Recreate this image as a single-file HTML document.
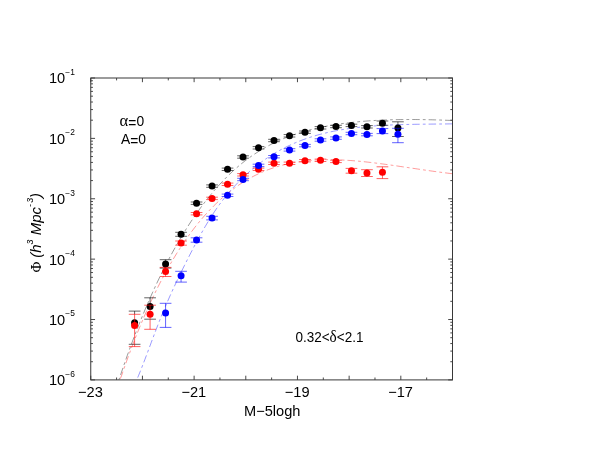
<!DOCTYPE html>
<html><head><meta charset="utf-8"><title>Luminosity function</title>
<style>html,body{margin:0;padding:0;background:#fff;}body{width:592px;height:458px;overflow:hidden;font-family:"Liberation Sans",sans-serif;}svg{display:block}</style>
</head><body>
<svg width="592" height="458" viewBox="0 0 592 458">
<defs><filter id="nf" x="0" y="0" width="592" height="458" filterUnits="userSpaceOnUse"><feOffset dx="0" dy="0"/></filter></defs>
<rect width="592" height="458" fill="#fff"/>
<path d="M452.5,120.5 L450.82,120.43 L449.15,120.37 L447.47,120.3 L445.79,120.24 L444.12,120.17 L442.44,120.12 L440.77,120.06 L439.09,120 L437.41,119.95 L435.74,119.9 L434.06,119.86 L432.38,119.81 L430.71,119.77 L429.03,119.74 L427.35,119.7 L425.68,119.67 L424,119.64 L422.33,119.61 L420.65,119.59 L418.97,119.57 L417.3,119.55 L415.62,119.54 L413.94,119.53 L412.27,119.53 L410.59,119.52 L408.91,119.52 L407.24,119.53 L405.56,119.54 L403.88,119.55 L402.21,119.57 L400.53,119.59 L398.86,119.61 L397.18,119.64 L395.5,119.68 L393.83,119.71 L392.15,119.76 L390.47,119.8 L388.8,119.86 L387.12,119.91 L385.44,119.97 L383.77,120.04 L382.09,120.11 L380.42,120.19 L378.74,120.27 L377.06,120.36 L375.39,120.45 L373.71,120.55 L372.03,120.66 L370.36,120.77 L368.68,120.89 L367,121.01 L365.33,121.14 L363.65,121.27 L361.98,121.42 L360.3,121.56 L358.62,121.72 L356.95,121.88 L355.27,122.05 L353.59,122.23 L351.92,122.41 L350.24,122.6 L348.56,122.8 L346.89,123.01 L345.21,123.23 L343.54,123.45 L341.86,123.68 L340.18,123.92 L338.51,124.17 L336.83,124.43 L335.15,124.69 L333.48,124.97 L331.8,125.25 L330.12,125.55 L328.45,125.85 L326.77,126.16 L325.09,126.49 L323.42,126.82 L321.74,127.16 L320.07,127.52 L318.39,127.88 L316.71,128.26 L315.04,128.65 L313.36,129.05 L311.68,129.46 L310.01,129.88 L308.33,130.32 L306.65,130.78 L304.98,131.24 L303.3,131.72 L301.63,132.22 L299.95,132.73 L298.27,133.26 L296.6,133.8 L294.92,134.36 L293.24,134.93 L291.57,135.53 L289.89,136.14 L288.21,136.77 L286.54,137.42 L284.86,138.09 L283.19,138.77 L281.51,139.48 L279.83,140.21 L278.16,140.96 L276.48,141.73 L274.8,142.53 L273.13,143.35 L271.45,144.19 L269.77,145.05 L268.1,145.94 L266.42,146.85 L264.75,147.79 L263.07,148.75 L261.39,149.74 L259.72,150.76 L258.04,151.8 L256.36,152.88 L254.69,153.98 L253.01,155.11 L251.33,156.27 L249.66,157.46 L247.98,158.68 L246.31,159.93 L244.63,161.22 L242.95,162.53 L241.28,163.88 L239.6,165.27 L237.92,166.69 L236.25,168.14 L234.57,169.63 L232.89,171.15 L231.22,172.71 L229.54,174.31 L227.86,175.94 L226.19,177.6 L224.51,179.31 L222.84,181.05 L221.16,182.83 L219.48,184.64 L217.81,186.49 L216.13,188.38 L214.45,190.31 L212.78,192.28 L211.1,194.29 L209.42,196.34 L207.75,198.42 L206.07,200.55 L204.4,202.72 L202.72,204.93 L201.04,207.18 L199.37,209.47 L197.69,211.81 L196.01,214.19 L194.34,216.61 L192.66,219.07 L190.98,221.58 L189.31,224.13 L187.63,226.73 L185.96,229.38 L184.28,232.07 L182.6,234.81 L180.93,237.59 L179.25,240.43 L177.57,243.31 L175.9,246.24 L174.22,249.22 L172.54,252.25 L170.87,255.33 L169.19,258.46 L167.52,261.65 L165.84,264.89 L164.16,268.18 L162.49,271.52 L160.81,274.92 L159.13,278.38 L157.46,281.89 L155.78,285.46 L154.1,289.08 L152.43,292.77 L150.75,296.51 L149.07,300.31 L147.4,304.17 L145.72,308.09 L144.05,312.08 L142.37,316.13 L140.69,320.24 L139.02,324.41 L137.34,328.66 L135.66,332.96 L133.99,337.34 L132.31,341.78 L130.63,346.29 L128.96,350.88 L127.28,355.53 L125.61,360.25 L123.93,365.05 L122.25,369.93 L120.58,374.87 L118.9,379.9" fill="none" stroke="#000" stroke-width="0.4" stroke-dasharray="7.5 3 2.8 3.1"/>
<path d="M452.5,173.73 L450.83,173.54 L449.16,173.34 L447.48,173.13 L445.81,172.92 L444.14,172.71 L442.47,172.5 L440.8,172.28 L439.13,172.06 L437.45,171.84 L435.78,171.61 L434.11,171.38 L432.44,171.15 L430.77,170.91 L429.09,170.68 L427.42,170.44 L425.75,170.2 L424.08,169.96 L422.41,169.72 L420.73,169.47 L419.06,169.23 L417.39,168.98 L415.72,168.73 L414.05,168.48 L412.38,168.24 L410.7,167.99 L409.03,167.74 L407.36,167.49 L405.69,167.24 L404.02,167 L402.34,166.75 L400.67,166.5 L399,166.26 L397.33,166.01 L395.66,165.77 L393.98,165.53 L392.31,165.29 L390.64,165.06 L388.97,164.82 L387.3,164.59 L385.63,164.36 L383.95,164.13 L382.28,163.91 L380.61,163.69 L378.94,163.47 L377.27,163.26 L375.59,163.05 L373.92,162.84 L372.25,162.64 L370.58,162.45 L368.91,162.25 L367.24,162.07 L365.56,161.88 L363.89,161.71 L362.22,161.54 L360.55,161.37 L358.88,161.21 L357.2,161.06 L355.53,160.92 L353.86,160.78 L352.19,160.65 L350.52,160.52 L348.84,160.41 L347.17,160.3 L345.5,160.2 L343.83,160.11 L342.16,160.02 L340.49,159.95 L338.81,159.88 L337.14,159.83 L335.47,159.78 L333.8,159.74 L332.13,159.72 L330.45,159.7 L328.78,159.7 L327.11,159.71 L325.44,159.72 L323.77,159.75 L322.09,159.8 L320.42,159.85 L318.75,159.92 L317.08,160 L315.41,160.09 L313.74,160.2 L312.06,160.32 L310.39,160.46 L308.72,160.61 L307.05,160.77 L305.38,160.95 L303.7,161.15 L302.03,161.36 L300.36,161.59 L298.69,161.83 L297.02,162.1 L295.35,162.38 L293.67,162.67 L292,162.99 L290.33,163.32 L288.66,163.68 L286.99,164.05 L285.31,164.44 L283.64,164.86 L281.97,165.29 L280.3,165.74 L278.63,166.22 L276.95,166.72 L275.28,167.24 L273.61,167.78 L271.94,168.34 L270.27,168.93 L268.6,169.55 L266.92,170.18 L265.25,170.85 L263.58,171.53 L261.91,172.25 L260.24,172.99 L258.56,173.76 L256.89,174.55 L255.22,175.37 L253.55,176.22 L251.88,177.1 L250.21,178.01 L248.53,178.95 L246.86,179.92 L245.19,180.92 L243.52,181.95 L241.85,183.02 L240.17,184.11 L238.5,185.24 L236.83,186.39 L235.16,187.59 L233.49,188.81 L231.81,190.07 L230.14,191.36 L228.47,192.69 L226.8,194.05 L225.13,195.44 L223.46,196.87 L221.78,198.34 L220.11,199.85 L218.44,201.39 L216.77,202.97 L215.1,204.58 L213.42,206.24 L211.75,207.93 L210.08,209.67 L208.41,211.44 L206.74,213.26 L205.06,215.11 L203.39,217.01 L201.72,218.95 L200.05,220.93 L198.38,222.96 L196.71,225.03 L195.03,227.14 L193.36,229.3 L191.69,231.51 L190.02,233.76 L188.35,236.06 L186.67,238.41 L185,240.8 L183.33,243.25 L181.66,245.75 L179.99,248.3 L178.32,250.89 L176.64,253.55 L174.97,256.25 L173.3,259.01 L171.63,261.83 L169.96,264.7 L168.28,267.62 L166.61,270.61 L164.94,273.65 L163.27,276.75 L161.6,279.91 L159.92,283.13 L158.25,286.41 L156.58,289.75 L154.91,293.16 L153.24,296.63 L151.57,300.16 L149.89,303.76 L148.22,307.43 L146.55,311.16 L144.88,314.96 L143.21,318.83 L141.53,322.77 L139.86,326.78 L138.19,330.86 L136.52,335.01 L134.85,339.24 L133.17,343.55 L131.5,347.93 L129.83,352.38 L128.16,356.92 L126.49,361.53 L124.82,366.23 L123.14,371 L121.47,375.87 L119.8,379.9" fill="none" stroke="#f00" stroke-width="0.4" stroke-dasharray="7.5 3 2.8 3.1"/>
<path d="M452.5,123.85 L450.91,123.88 L449.33,123.9 L447.74,123.92 L446.16,123.94 L444.57,123.96 L442.98,123.97 L441.4,123.99 L439.81,124.01 L438.23,124.03 L436.64,124.04 L435.05,124.06 L433.47,124.08 L431.88,124.09 L430.3,124.11 L428.71,124.13 L427.13,124.14 L425.54,124.16 L423.95,124.18 L422.37,124.2 L420.78,124.22 L419.2,124.25 L417.61,124.27 L416.02,124.29 L414.44,124.32 L412.85,124.35 L411.27,124.38 L409.68,124.41 L408.09,124.44 L406.51,124.48 L404.92,124.52 L403.34,124.56 L401.75,124.6 L400.16,124.65 L398.58,124.7 L396.99,124.75 L395.41,124.8 L393.82,124.86 L392.23,124.92 L390.65,124.99 L389.06,125.06 L387.48,125.13 L385.89,125.21 L384.31,125.29 L382.72,125.38 L381.13,125.47 L379.55,125.56 L377.96,125.66 L376.38,125.77 L374.79,125.88 L373.2,125.99 L371.62,126.12 L370.03,126.24 L368.45,126.38 L366.86,126.52 L365.27,126.66 L363.69,126.82 L362.1,126.98 L360.52,127.14 L358.93,127.32 L357.34,127.5 L355.76,127.68 L354.17,127.88 L352.59,128.08 L351,128.3 L349.41,128.52 L347.83,128.75 L346.24,128.98 L344.66,129.23 L343.07,129.49 L341.48,129.75 L339.9,130.03 L338.31,130.31 L336.73,130.61 L335.14,130.91 L333.56,131.23 L331.97,131.56 L330.38,131.9 L328.8,132.24 L327.21,132.61 L325.63,132.98 L324.04,133.36 L322.45,133.76 L320.87,134.17 L319.28,134.59 L317.7,135.03 L316.11,135.48 L314.52,135.94 L312.94,136.42 L311.35,136.92 L309.77,137.42 L308.18,137.95 L306.59,138.49 L305.01,139.04 L303.42,139.61 L301.84,140.2 L300.25,140.81 L298.66,141.43 L297.08,142.07 L295.49,142.73 L293.91,143.4 L292.32,144.1 L290.74,144.82 L289.15,145.55 L287.56,146.31 L285.98,147.08 L284.39,147.88 L282.81,148.7 L281.22,149.54 L279.63,150.4 L278.05,151.29 L276.46,152.19 L274.88,153.13 L273.29,154.08 L271.7,155.06 L270.12,156.07 L268.53,157.1 L266.95,158.15 L265.36,159.23 L263.77,160.34 L262.19,161.48 L260.6,162.64 L259.02,163.84 L257.43,165.06 L255.84,166.31 L254.26,167.59 L252.67,168.9 L251.09,170.24 L249.5,171.61 L247.92,173.01 L246.33,174.45 L244.74,175.92 L243.16,177.42 L241.57,178.96 L239.99,180.53 L238.4,182.14 L236.81,183.79 L235.23,185.47 L233.64,187.2 L232.06,188.96 L230.47,190.77 L228.88,192.61 L227.3,194.5 L225.71,196.44 L224.13,198.42 L222.54,200.45 L220.95,202.53 L219.37,204.67 L217.78,206.88 L216.2,209.14 L214.61,211.47 L213.02,213.87 L211.44,216.33 L209.85,218.84 L208.27,221.42 L206.68,224.05 L205.09,226.73 L203.51,229.46 L201.92,232.25 L200.34,235.07 L198.75,237.95 L197.17,240.86 L195.58,243.81 L193.99,246.8 L192.41,249.83 L190.82,252.89 L189.24,255.98 L187.65,259.1 L186.06,262.24 L184.48,265.41 L182.89,268.61 L181.31,271.83 L179.72,275.09 L178.13,278.38 L176.55,281.7 L174.96,285.07 L173.38,288.49 L171.79,291.95 L170.2,295.47 L168.62,299.04 L167.03,302.67 L165.45,306.37 L163.86,310.13 L162.27,313.96 L160.69,317.87 L159.1,321.86 L157.52,325.92 L155.93,330.05 L154.35,334.24 L152.76,338.46 L151.17,342.7 L149.59,346.95 L148,351.2 L146.42,355.43 L144.83,359.62 L143.24,363.76 L141.66,367.83 L140.07,371.83 L138.49,375.73 L136.9,379.53" fill="none" stroke="#00f" stroke-width="0.4" stroke-dasharray="7.5 3 2.8 3.1"/>
<path d="M128.75,311.1H140.45M128.75,344.3H140.45M134.6,311.1V314.3" stroke="#000" stroke-width="0.62" fill="none"/>
<circle cx="134.6" cy="322.7" r="3.5" fill="#000"/>
<path d="M144.24,297.8H155.94M144.24,319.2H155.94M150.09,297.8V305.2" stroke="#000" stroke-width="0.62" fill="none"/>
<circle cx="150.09" cy="306.6" r="3.5" fill="#000"/>
<path d="M159.73,259.7H171.43M159.73,268.1H171.43M165.58,259.7V268.1" stroke="#000" stroke-width="0.62" fill="none"/>
<circle cx="165.58" cy="263.9" r="3.5" fill="#000"/>
<path d="M175.22,232.3H186.92M175.22,236.3H186.92M181.07,232.3V236.3" stroke="#000" stroke-width="0.62" fill="none"/>
<circle cx="181.07" cy="234.3" r="3.5" fill="#000"/>
<path d="M190.71,202H202.41M190.71,204.4H202.41M196.56,202V204.4" stroke="#000" stroke-width="0.62" fill="none"/>
<circle cx="196.56" cy="203.2" r="3.5" fill="#000"/>
<path d="M206.2,184.9H217.9M206.2,187.3H217.9M212.05,184.9V187.3" stroke="#000" stroke-width="0.62" fill="none"/>
<circle cx="212.05" cy="186.1" r="3.5" fill="#000"/>
<path d="M221.69,168.1H233.39M221.69,170.5H233.39M227.54,168.1V170.5" stroke="#000" stroke-width="0.62" fill="none"/>
<circle cx="227.54" cy="169.3" r="3.5" fill="#000"/>
<path d="M237.18,155.8H248.88M237.18,158.2H248.88M243.03,155.8V158.2" stroke="#000" stroke-width="0.62" fill="none"/>
<circle cx="243.03" cy="157" r="3.5" fill="#000"/>
<path d="M252.67,146.6H264.37M252.67,149H264.37M258.52,146.6V149" stroke="#000" stroke-width="0.62" fill="none"/>
<circle cx="258.52" cy="147.8" r="3.5" fill="#000"/>
<path d="M268.16,139.3H279.86M268.16,141.7H279.86M274.01,139.3V141.7" stroke="#000" stroke-width="0.62" fill="none"/>
<circle cx="274.01" cy="140.5" r="3.5" fill="#000"/>
<path d="M283.65,134.6H295.35M283.65,137H295.35M289.5,134.6V137" stroke="#000" stroke-width="0.62" fill="none"/>
<circle cx="289.5" cy="135.8" r="3.5" fill="#000"/>
<path d="M299.14,131H310.84M299.14,133.4H310.84M304.99,131V133.4" stroke="#000" stroke-width="0.62" fill="none"/>
<circle cx="304.99" cy="132.2" r="3.5" fill="#000"/>
<path d="M314.63,126.6H326.33M314.63,129H326.33M320.48,126.6V129" stroke="#000" stroke-width="0.62" fill="none"/>
<circle cx="320.48" cy="127.8" r="3.5" fill="#000"/>
<path d="M330.12,125.3H341.82M330.12,127.7H341.82M335.97,125.3V127.7" stroke="#000" stroke-width="0.62" fill="none"/>
<circle cx="335.97" cy="126.5" r="3.5" fill="#000"/>
<path d="M345.61,124.2H357.31M345.61,126.6H357.31M351.46,124.2V126.6" stroke="#000" stroke-width="0.62" fill="none"/>
<circle cx="351.46" cy="125.4" r="3.5" fill="#000"/>
<path d="M361.1,125.6H372.8M361.1,128H372.8M366.95,125.6V128" stroke="#000" stroke-width="0.62" fill="none"/>
<circle cx="366.95" cy="126.8" r="3.5" fill="#000"/>
<path d="M376.59,121H388.29M376.59,125.3H388.29M382.44,121V125.3" stroke="#000" stroke-width="0.62" fill="none"/>
<circle cx="382.44" cy="123.15" r="3.5" fill="#000"/>
<path d="M392.08,121.8H403.78M392.08,136.5H403.78M397.93,121.8V136.5" stroke="#000" stroke-width="0.62" fill="none"/>
<circle cx="397.93" cy="128" r="3.5" fill="#000"/>
<path d="M128.75,314.3H140.45M128.75,346.6H140.45M134.6,314.3V346.6" stroke="#f00" stroke-width="0.62" fill="none"/>
<circle cx="134.6" cy="325.5" r="3.5" fill="#f00"/>
<path d="M144.24,305.2H155.94M144.24,329.3H155.94M150.09,305.2V329.3" stroke="#f00" stroke-width="0.62" fill="none"/>
<circle cx="150.09" cy="314.3" r="3.5" fill="#f00"/>
<path d="M159.73,267.4H171.43M159.73,276.5H171.43M165.58,267.4V276.5" stroke="#f00" stroke-width="0.62" fill="none"/>
<circle cx="165.58" cy="271.6" r="3.5" fill="#f00"/>
<path d="M175.22,241H186.92M175.22,245.2H186.92M181.07,241V245.2" stroke="#f00" stroke-width="0.62" fill="none"/>
<circle cx="181.07" cy="243.1" r="3.5" fill="#f00"/>
<path d="M190.71,212.5H202.41M190.71,214.9H202.41M196.56,212.5V214.9" stroke="#f00" stroke-width="0.62" fill="none"/>
<circle cx="196.56" cy="213.7" r="3.5" fill="#f00"/>
<path d="M206.2,197.2H217.9M206.2,199.6H217.9M212.05,197.2V199.6" stroke="#f00" stroke-width="0.62" fill="none"/>
<circle cx="212.05" cy="198.4" r="3.5" fill="#f00"/>
<path d="M221.69,183.1H233.39M221.69,185.5H233.39M227.54,183.1V185.5" stroke="#f00" stroke-width="0.62" fill="none"/>
<circle cx="227.54" cy="184.3" r="3.5" fill="#f00"/>
<path d="M237.18,173.6H248.88M237.18,176H248.88M243.03,173.6V176" stroke="#f00" stroke-width="0.62" fill="none"/>
<circle cx="243.03" cy="174.8" r="3.5" fill="#f00"/>
<path d="M252.67,168.1H264.37M252.67,170.5H264.37M258.52,168.1V170.5" stroke="#f00" stroke-width="0.62" fill="none"/>
<circle cx="258.52" cy="169.3" r="3.5" fill="#f00"/>
<path d="M268.16,162.1H279.86M268.16,164.5H279.86M274.01,162.1V164.5" stroke="#f00" stroke-width="0.62" fill="none"/>
<circle cx="274.01" cy="163.3" r="3.5" fill="#f00"/>
<path d="M283.65,162.1H295.35M283.65,164.5H295.35M289.5,162.1V164.5" stroke="#f00" stroke-width="0.62" fill="none"/>
<circle cx="289.5" cy="163.3" r="3.5" fill="#f00"/>
<path d="M299.14,159.5H310.84M299.14,161.9H310.84M304.99,159.5V161.9" stroke="#f00" stroke-width="0.62" fill="none"/>
<circle cx="304.99" cy="160.7" r="3.5" fill="#f00"/>
<path d="M314.63,159.1H326.33M314.63,161.5H326.33M320.48,159.1V161.5" stroke="#f00" stroke-width="0.62" fill="none"/>
<circle cx="320.48" cy="160.3" r="3.5" fill="#f00"/>
<path d="M330.12,160.2H341.82M330.12,162.6H341.82M335.97,160.2V162.6" stroke="#f00" stroke-width="0.62" fill="none"/>
<circle cx="335.97" cy="161.4" r="3.5" fill="#f00"/>
<path d="M345.61,168.4H357.31M345.61,173.2H357.31M351.46,168.4V173.2" stroke="#f00" stroke-width="0.62" fill="none"/>
<circle cx="351.46" cy="170.8" r="3.5" fill="#f00"/>
<path d="M361.1,169.7H372.8M361.1,176.5H372.8M366.95,169.7V176.5" stroke="#f00" stroke-width="0.62" fill="none"/>
<circle cx="366.95" cy="173" r="3.5" fill="#f00"/>
<path d="M376.59,166.8H388.29M376.59,178.6H388.29M382.44,166.8V178.6" stroke="#f00" stroke-width="0.62" fill="none"/>
<circle cx="382.44" cy="172.2" r="3.5" fill="#f00"/>
<path d="M159.73,303.3H171.43M159.73,327.4H171.43M165.58,303.3V327.4" stroke="#00f" stroke-width="0.62" fill="none"/>
<circle cx="165.58" cy="312.9" r="3.5" fill="#00f"/>
<path d="M175.22,271.3H186.92M175.22,282.1H186.92M181.07,271.3V282.1" stroke="#00f" stroke-width="0.62" fill="none"/>
<circle cx="181.07" cy="275.8" r="3.5" fill="#00f"/>
<path d="M190.71,237.8H202.41M190.71,242.2H202.41M196.56,237.8V242.2" stroke="#00f" stroke-width="0.62" fill="none"/>
<circle cx="196.56" cy="240" r="3.5" fill="#00f"/>
<path d="M206.2,216.3H217.9M206.2,219.9H217.9M212.05,216.3V219.9" stroke="#00f" stroke-width="0.62" fill="none"/>
<circle cx="212.05" cy="218.1" r="3.5" fill="#00f"/>
<path d="M221.69,194.1H233.39M221.69,196.5H233.39M227.54,194.1V196.5" stroke="#00f" stroke-width="0.62" fill="none"/>
<circle cx="227.54" cy="195.3" r="3.5" fill="#00f"/>
<path d="M237.18,178.3H248.88M237.18,180.7H248.88M243.03,178.3V180.7" stroke="#00f" stroke-width="0.62" fill="none"/>
<circle cx="243.03" cy="179.5" r="3.5" fill="#00f"/>
<path d="M252.67,164.2H264.37M252.67,166.6H264.37M258.52,164.2V166.6" stroke="#00f" stroke-width="0.62" fill="none"/>
<circle cx="258.52" cy="165.4" r="3.5" fill="#00f"/>
<path d="M268.16,155.5H279.86M268.16,157.9H279.86M274.01,155.5V157.9" stroke="#00f" stroke-width="0.62" fill="none"/>
<circle cx="274.01" cy="156.7" r="3.5" fill="#00f"/>
<path d="M283.65,148.7H295.35M283.65,151.1H295.35M289.5,148.7V151.1" stroke="#00f" stroke-width="0.62" fill="none"/>
<circle cx="289.5" cy="149.9" r="3.5" fill="#00f"/>
<path d="M299.14,144.4H310.84M299.14,146.8H310.84M304.99,144.4V146.8" stroke="#00f" stroke-width="0.62" fill="none"/>
<circle cx="304.99" cy="145.6" r="3.5" fill="#00f"/>
<path d="M314.63,138.8H326.33M314.63,141.2H326.33M320.48,138.8V141.2" stroke="#00f" stroke-width="0.62" fill="none"/>
<circle cx="320.48" cy="140" r="3.5" fill="#00f"/>
<path d="M330.12,136.9H341.82M330.12,139.3H341.82M335.97,136.9V139.3" stroke="#00f" stroke-width="0.62" fill="none"/>
<circle cx="335.97" cy="138.1" r="3.5" fill="#00f"/>
<path d="M345.61,132.3H357.31M345.61,134.7H357.31M351.46,132.3V134.7" stroke="#00f" stroke-width="0.62" fill="none"/>
<circle cx="351.46" cy="133.5" r="3.5" fill="#00f"/>
<path d="M361.1,133.4H372.8M361.1,135.8H372.8M366.95,133.4V135.8" stroke="#00f" stroke-width="0.62" fill="none"/>
<circle cx="366.95" cy="134.6" r="3.5" fill="#00f"/>
<path d="M376.59,128.6H388.29M376.59,133.6H388.29M382.44,128.6V133.6" stroke="#00f" stroke-width="0.62" fill="none"/>
<circle cx="382.44" cy="131.1" r="3.5" fill="#00f"/>
<path d="M392.08,128.3H403.78M392.08,142.7H403.78M397.93,128.3V142.7" stroke="#00f" stroke-width="0.62" fill="none"/>
<circle cx="397.93" cy="134.3" r="3.5" fill="#00f"/>
<path d="M90.75,379.9v-4.2M90.75,78v4.2M116.59,379.9v-2.4M116.59,78v2.4M142.43,379.9v-4.2M142.43,78v4.2M168.27,379.9v-2.4M168.27,78v2.4M194.11,379.9v-4.2M194.11,78v4.2M219.95,379.9v-2.4M219.95,78v2.4M245.79,379.9v-4.2M245.79,78v4.2M271.62,379.9v-2.4M271.62,78v2.4M297.46,379.9v-4.2M297.46,78v4.2M323.3,379.9v-2.4M323.3,78v2.4M349.14,379.9v-4.2M349.14,78v4.2M374.98,379.9v-2.4M374.98,78v2.4M400.82,379.9v-4.2M400.82,78v4.2M426.66,379.9v-2.4M426.66,78v2.4M452.5,379.9v-4.2M452.5,78v4.2M90.75,78h4.3M452.5,78h-4.3M90.75,120.2h2.2M452.5,120.2h-2.2M90.75,109.57h2.2M452.5,109.57h-2.2M90.75,102.03h2.2M452.5,102.03h-2.2M90.75,96.18h2.2M452.5,96.18h-2.2M90.75,91.4h2.2M452.5,91.4h-2.2M90.75,87.35h2.2M452.5,87.35h-2.2M90.75,83.85h2.2M452.5,83.85h-2.2M90.75,80.76h2.2M452.5,80.76h-2.2M90.75,138.38h4.3M452.5,138.38h-4.3M90.75,180.58h2.2M452.5,180.58h-2.2M90.75,169.95h2.2M452.5,169.95h-2.2M90.75,162.41h2.2M452.5,162.41h-2.2M90.75,156.56h2.2M452.5,156.56h-2.2M90.75,151.78h2.2M452.5,151.78h-2.2M90.75,147.73h2.2M452.5,147.73h-2.2M90.75,144.23h2.2M452.5,144.23h-2.2M90.75,141.14h2.2M452.5,141.14h-2.2M90.75,198.76h4.3M452.5,198.76h-4.3M90.75,240.96h2.2M452.5,240.96h-2.2M90.75,230.33h2.2M452.5,230.33h-2.2M90.75,222.79h2.2M452.5,222.79h-2.2M90.75,216.94h2.2M452.5,216.94h-2.2M90.75,212.16h2.2M452.5,212.16h-2.2M90.75,208.11h2.2M452.5,208.11h-2.2M90.75,204.61h2.2M452.5,204.61h-2.2M90.75,201.52h2.2M452.5,201.52h-2.2M90.75,259.14h4.3M452.5,259.14h-4.3M90.75,301.34h2.2M452.5,301.34h-2.2M90.75,290.71h2.2M452.5,290.71h-2.2M90.75,283.17h2.2M452.5,283.17h-2.2M90.75,277.32h2.2M452.5,277.32h-2.2M90.75,272.54h2.2M452.5,272.54h-2.2M90.75,268.49h2.2M452.5,268.49h-2.2M90.75,264.99h2.2M452.5,264.99h-2.2M90.75,261.9h2.2M452.5,261.9h-2.2M90.75,319.52h4.3M452.5,319.52h-4.3M90.75,361.72h2.2M452.5,361.72h-2.2M90.75,351.09h2.2M452.5,351.09h-2.2M90.75,343.55h2.2M452.5,343.55h-2.2M90.75,337.7h2.2M452.5,337.7h-2.2M90.75,332.92h2.2M452.5,332.92h-2.2M90.75,328.87h2.2M452.5,328.87h-2.2M90.75,325.37h2.2M452.5,325.37h-2.2M90.75,322.28h2.2M452.5,322.28h-2.2M90.75,379.9h4.3M452.5,379.9h-4.3" stroke="#333" stroke-width="0.9" fill="none"/>
<rect x="90.75" y="78" width="361.75" height="301.9" fill="none" stroke="#383838" stroke-width="1.0"/>
<g font-family="Liberation Sans, sans-serif" fill="#000" filter="url(#nf)"><text x="90.45" y="396.6" text-anchor="middle" font-size="14.6">−23</text>
<text x="193.81" y="396.6" text-anchor="middle" font-size="14.6">−21</text>
<text x="297.16" y="396.6" text-anchor="middle" font-size="14.6">−19</text>
<text x="400.52" y="396.6" text-anchor="middle" font-size="14.6">−17</text>
<text x="49" y="83.4" font-size="14.6">10<tspan dy="-8.5" font-size="8.4">−1</tspan></text>
<text x="49" y="143.78" font-size="14.6">10<tspan dy="-8.5" font-size="8.4">−2</tspan></text>
<text x="49" y="204.16" font-size="14.6">10<tspan dy="-8.5" font-size="8.4">−3</tspan></text>
<text x="49" y="264.54" font-size="14.6">10<tspan dy="-8.5" font-size="8.4">−4</tspan></text>
<text x="49" y="324.92" font-size="14.6">10<tspan dy="-8.5" font-size="8.4">−5</tspan></text>
<text x="49" y="385.3" font-size="14.6">10<tspan dy="-8.5" font-size="8.4">−6</tspan></text>
<text x="244" y="416" font-size="14.6">M−5logh</text>
<text transform="translate(121,143.6) scale(0.948,1)" font-size="14.6">A<tspan dy="2.3">=</tspan><tspan dy="-2.3">0</tspan></text>
<text transform="translate(119.6,125.7) scale(0.948,1)" font-size="14.6"><tspan font-family="Liberation Serif" font-size="17.5">α</tspan><tspan dy="2.3">=</tspan><tspan dy="-2.3">0</tspan></text>
<text transform="translate(295.4,341.6) scale(0.926,1)" font-size="14.6">0.32&lt;<tspan font-family="Liberation Serif" font-size="16.5">δ</tspan>&lt;2.1</text>
<text transform="translate(41.3,272.6) rotate(-90)" font-size="15.0"><tspan font-family="Liberation Serif" font-size="15">Φ</tspan><tspan dx="-0.3"> </tspan><tspan font-style="italic">(h</tspan><tspan font-style="italic" dy="-8.8" font-size="8.8">3</tspan><tspan font-style="italic" dy="8.8"> Mpc</tspan><tspan font-style="italic" dy="-8.8" font-size="8.8">-<tspan dx="1.2">3</tspan></tspan><tspan font-style="italic" dy="8.8">)</tspan></text></g>
</svg>
</body></html>
